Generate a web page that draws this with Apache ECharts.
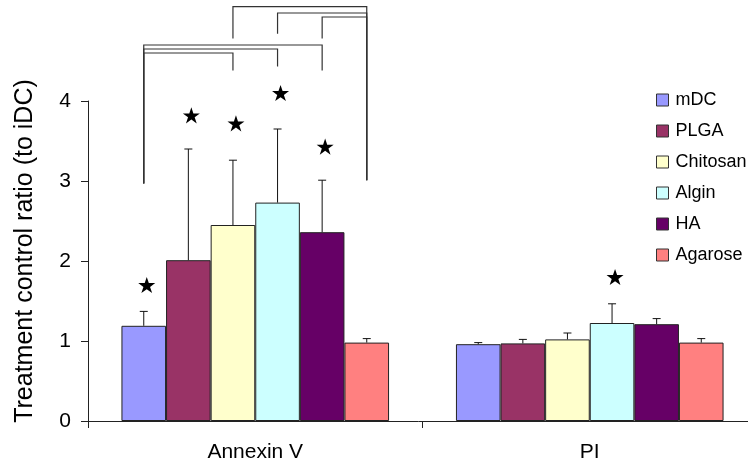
<!DOCTYPE html>
<html>
<head>
<meta charset="utf-8">
<script src="https://cdn.jsdelivr.net/npm/echarts@6/dist/echarts.min.js"></script>
<style>
  html, body { margin: 0; padding: 0; background: #fff; }
  #chart { width: 748px; height: 467px; overflow: hidden; }
</style>
</head>
<body>
<div id="chart"></div>
<script>
// Assay groups on the x axis
const categories = ['Annexin V', 'PI'];
// Treatment groups (one bar per group in each assay)
const groups = ['mDC', 'PLGA', 'Chitosan', 'Algin', 'HA', 'Agarose'];
const groupColors = ['#9999FF', '#993366', '#FFFFCC', '#CCFFFF', '#660066', '#FF8080'];

// Mean ratio per group: [Annexin V, PI]
const mDC      = [1.19, 0.96];
const PLGA     = [2.01, 0.97];
const Chitosan = [2.45, 1.02];
const Algin    = [2.73, 1.225];
const HA       = [2.36, 1.21];
const Agarose  = [0.98, 0.98];
const means = [mDC, PLGA, Chitosan, Algin, HA, Agarose];

// Upper error (SD) per group: [Annexin V, PI]
const mDCErr      = [0.18, 0.02];
const PLGAErr     = [1.39, 0.05];
const ChitosanErr = [0.81, 0.08];
const AlginErr    = [0.92, 0.24];
const HAErr       = [0.65, 0.07];
const AgaroseErr  = [0.05, 0.05];
const errors = [mDCErr, PLGAErr, ChitosanErr, AlginErr, HAErr, AgaroseErr];

// Significance stars: [category index, group index, height]
const stars = [
  [0, 0, 1.70], [0, 1, 3.82], [0, 2, 3.72], [0, 3, 4.10], [0, 4, 3.43],
  [1, 3, 1.80]
];

// Comparison brackets in the Annexin V group
const bracketFrom     = [0, 0, 0, 5, 5, 5];          // group the bracket starts from
const bracketTo       = [4, 3, 2, 2, 3, 4];          // group the bracket ends at
const bracketLevel    = [4.70, 4.65, 4.60, 5.18, 5.10, 5.05];
const bracketFromEnd  = [2.97, 2.97, 2.97, 3.01, 3.01, 3.01];
const bracketToEnd    = [4.38, 4.43, 4.38, 4.78, 4.84, 4.78];

const yTicks = [0, 1, 2, 3, 4];

const FONT = 'Liberation Sans, Arial, sans-serif';
const CAT_GAP = 0.2;
const STAR_PATH = 'M50,0 L61.8,35.1 L98.9,35.1 L69.1,57.3 L80.9,92.7 L50,70.5 L19.1,92.7 L30.9,57.3 L1.1,35.1 L38.2,35.1 Z';

// centre x of a given bar inside its category band
function barX(api, cat, idx) {
  const cx = api.coord([cat, 0])[0];
  const band = api.size([1, 0])[0];
  const w = band * (1 - CAT_GAP) / groups.length;
  return cx + (idx - (groups.length - 1) / 2) * w;
}

const barSeries = groups.map((g, i) => ({
  name: g,
  type: 'bar',
  data: means[i],
  barGap: '0%',
  barCategoryGap: (CAT_GAP * 100) + '%',
  itemStyle: { color: groupColors[i], borderColor: '#222', borderWidth: 1 },
  emphasis: { disabled: true },
  z: 2
}));

const errData = [];
groups.forEach((g, i) => {
  categories.forEach((c, k) => errData.push([k, i, means[i][k], errors[i][k]]));
});

const errSeries = {
  type: 'custom',
  data: errData,
  encode: { x: 0, y: 2 },
  z: 5,
  silent: true,
  renderItem: function (params, api) {
    const cat = api.value(0), idx = api.value(1);
    const v = api.value(2), e = api.value(3);
    const x = barX(api, cat, idx);
    const y0 = api.coord([cat, v])[1];
    const y1 = api.coord([cat, v + e])[1];
    const st = { stroke: '#111', lineWidth: 1 };
    return {
      type: 'group',
      children: [
        { type: 'line', shape: { x1: x, y1: y0, x2: x, y2: y1 }, style: st },
        { type: 'line', shape: { x1: x - 4, y1: y1, x2: x + 4, y2: y1 }, style: st }
      ]
    };
  }
};

const starSeries = {
  type: 'custom',
  data: stars,
  encode: { x: 0, y: 2 },
  z: 6,
  silent: true,
  clip: false,
  renderItem: function (params, api) {
    const cat = api.value(0), idx = api.value(1);
    const x = barX(api, cat, idx) + 3;
    const y = api.coord([cat, api.value(2)])[1];
    return {
      type: 'path',
      shape: { pathData: STAR_PATH, x: x - 8.5, y: y - 8.5, width: 17, height: 17 },
      style: { fill: '#000' }
    };
  }
};

const bracketData = bracketFrom.map((f, i) =>
  [0, f, bracketTo[i], bracketLevel[i], bracketFromEnd[i], bracketToEnd[i]]);

const bracketSeries = {
  type: 'custom',
  data: bracketData,
  encode: { x: 0, y: 3 },
  z: 4,
  silent: true,
  clip: false,
  renderItem: function (params, api) {
    const cat = api.value(0);
    const xa = barX(api, cat, api.value(1));
    const xb = barX(api, cat, api.value(2));
    const yl = api.coord([cat, api.value(3)])[1];
    const ya = api.coord([cat, api.value(4)])[1];
    const yb = api.coord([cat, api.value(5)])[1];
    return {
      type: 'polyline',
      shape: { points: [[xa, ya], [xa, yl], [xb, yl], [xb, yb]] },
      style: { stroke: '#333', lineWidth: 1.2, fill: null }
    };
  }
};

const chart = echarts.init(document.getElementById('chart'), null, { renderer: 'canvas' });
chart.setOption({
  animation: false,
  backgroundColor: '#fff',
  textStyle: { fontFamily: FONT },
  // the plot runs a little past the right edge of the canvas
  grid: { left: 88, width: 669, top: 101, bottom: 46, containLabel: false, outerBoundsMode: 'none' },
  legend: {
    orient: 'vertical',
    left: 651,
    top: 86,
    itemWidth: 12,
    itemHeight: 12,
    itemGap: 13,
    icon: 'rect',
    data: groups,
    itemStyle: { borderColor: '#333', borderWidth: 1 },
    textStyle: { fontFamily: FONT, fontSize: 18, color: '#000', padding: [0, 0, 0, 2] }
  },
  xAxis: {
    type: 'category',
    data: categories,
    axisLine: { lineStyle: { color: '#222', width: 1 } },
    axisTick: { show: true, length: 7, alignWithLabel: false, lineStyle: { color: '#222' } },
    axisLabel: { fontFamily: FONT, fontSize: 21, color: '#000', margin: 21 },
    splitLine: { show: false }
  },
  yAxis: {
    type: 'value',
    min: yTicks[0],
    max: yTicks[yTicks.length - 1],
    interval: 1,
    name: 'Treatment control ratio (to iDC)',
    nameLocation: 'middle',
    nameGap: 50,
    nameTextStyle: { fontFamily: FONT, fontSize: 25, color: '#000', padding: [0, 0, 0, 20] },
    axisLine: { show: true, lineStyle: { color: '#222', width: 1 } },
    axisTick: { show: true, length: 7, lineStyle: { color: '#222' } },
    axisLabel: { fontFamily: FONT, fontSize: 21, color: '#000', margin: 17 },
    splitLine: { show: false }
  },
  series: [...barSeries, errSeries, bracketSeries, starSeries]
});
</script>
</body>
</html>
